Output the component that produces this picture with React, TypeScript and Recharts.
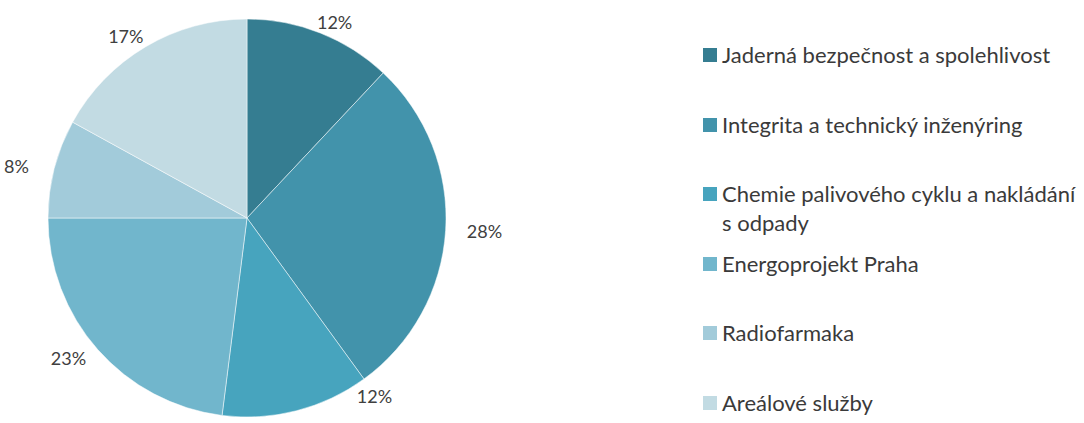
import { PieChart, Pie, Cell, Legend } from "recharts";

const categories = [
  "Jaderná bezpečnost a spolehlivost",
  "Integrita a technický inženýring",
  "Chemie palivového cyklu a nakládání s\u00a0odpady",
  "Energoprojekt Praha",
  "Radiofarmaka",
  "Areálové služby",
];
const shares = [12, 28, 12, 23, 8, 17];
const colors = ["#357d91", "#4293ab", "#47a4be", "#71b6cc", "#a2cbda", "#c2dbe3"];

const data = categories.map((name, i) => ({ name, value: shares[i] }));

const FONT = "Lato, 'Open Sans', sans-serif";
const RADIAN = Math.PI / 180;

// labels sit on an ellipse around the pie; the one at the bottom is pushed
// clockwise so it stays inside the picture
const renderLabel = (props: any) => {
  const { cx, cy, midAngle, value } = props;
  let clock = 90 - midAngle;
  clock = ((clock % 360) + 360) % 360;
  if (clock > 150 && clock < 210) clock -= 18;
  const rx = 238;
  const ry = 211;
  const x = cx + rx * Math.sin(clock * RADIAN);
  const y = cy - ry * Math.cos(clock * RADIAN);
  return (
    <text
      x={x}
      y={y}
      textAnchor="middle"
      dominantBaseline="central"
      fill="#404040"
      fontSize={18}
      fontFamily={FONT}
    >
      {value}%
    </text>
  );
};

const renderLegend = () => (
  <div style={{ fontFamily: FONT, fontSize: 22, color: "#3a3a3a" }}>
    {categories.map((name, i) => (
      <div key={name} style={{ display: "flex", height: 69.6, alignItems: "flex-start" }}>
        <div
          style={{
            width: 14,
            height: 14,
            background: colors[i],
            marginTop: 8,
            marginRight: 5,
            flexShrink: 0,
          }}
        />
        <div style={{ width: 360, lineHeight: "29px" }}>{name}</div>
      </div>
    ))}
  </div>
);

export default function App() {
  return (
    <div style={{ position: "absolute", left: 0, top: 0, background: "#fff" }}>
      <PieChart width={1084} height={423} margin={{ top: 0, right: 0, bottom: 0, left: 0 }}>
        <Pie
          data={data}
          dataKey="value"
          nameKey="name"
          cx={247}
          cy={218}
          outerRadius={199}
          startAngle={90}
          endAngle={-270}
          stroke="#ffffff"
          strokeWidth={0.5}
          label={renderLabel}
          labelLine={false}
          isAnimationActive={false}
        >
          {data.map((d, i) => (
            <Cell key={d.name} fill={colors[i]} />
          ))}
        </Pie>
        <Legend
          content={renderLegend}
          wrapperStyle={{ position: "absolute", left: 703, top: 40, width: 380 }}
        />
      </PieChart>
    </div>
  );
}
